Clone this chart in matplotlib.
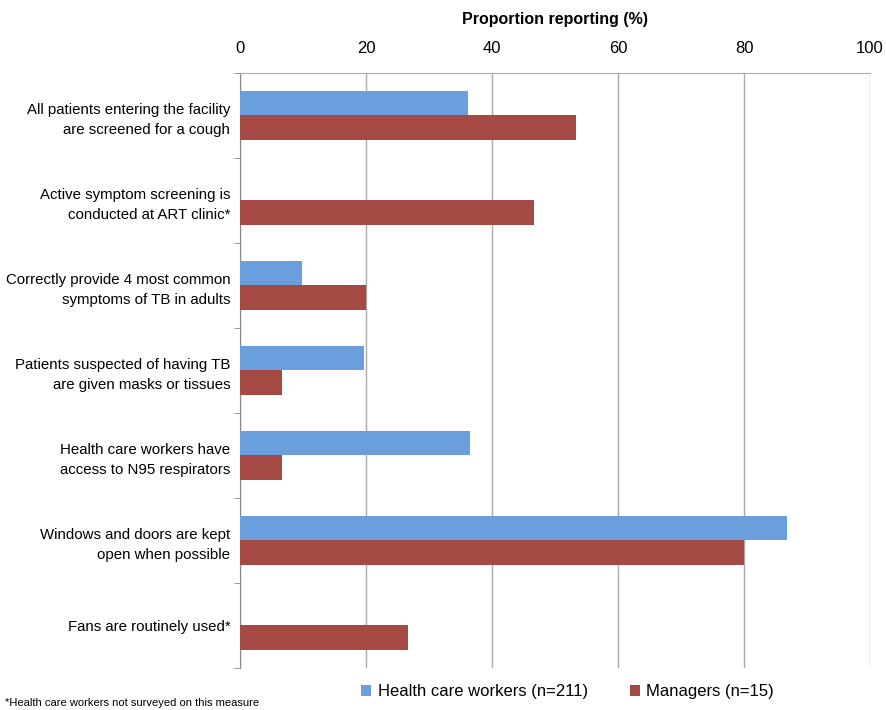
import matplotlib
matplotlib.use('Agg')
import matplotlib.pyplot as plt
import numpy as np

# Data
categories = [
    'All patients entering the facility\nare screened for a cough',
    'Active symptom screening is\nconducted at ART clinic*',
    'Correctly provide 4 most common\nsymptoms of TB in adults',
    'Patients suspected of having TB\nare given masks or tissues',
    'Health care workers have\naccess to N95 respirators',
    'Windows and doors are kept\nopen when possible',
    'Fans are routinely used*',
]
hcw = [36.2, np.nan, 9.8, 19.7, 36.5, 86.8, np.nan]
managers = [53.3, 46.7, 20.0, 6.7, 6.7, 80.0, 26.7]
series_labels = ['Health care workers (n=211)', 'Managers (n=15)']
xticks = [0, 20, 40, 60, 80, 100]

plt.rcParams['font.family'] = ['Liberation Sans', 'DejaVu Sans']

blue = '#6a9edc'
red = '#a54944'

fig = plt.figure(figsize=(8.87, 7.10), dpi=100)
ax = fig.add_axes([0.2706, 0.0592, 0.7103, 0.8384])

y = np.arange(len(categories))
h = 0.29
ax.barh(y - h / 2, hcw, height=h, color=blue, label=series_labels[0], zorder=3)
ax.barh(y + h / 2, managers, height=h, color=red, label=series_labels[1], zorder=3)

ax.set_xlim(0, 100)
ax.set_ylim(len(categories) - 0.5, -0.5)
ax.xaxis.tick_top()
ax.xaxis.set_label_position('top')
ax.set_xticks(xticks)
ax.tick_params(axis='x', length=0, labelsize=12, pad=12)
ax.set_xlabel('Proportion reporting (%)', fontsize=11.5, fontweight='bold', labelpad=12)

ax.set_yticks(y)
ax.set_yticklabels(categories, fontsize=10.8, linespacing=1.55)
ax.tick_params(axis='y', which='major', length=0, pad=7)
ax.set_yticks(np.arange(len(categories) + 1) - 0.5, minor=True)
ax.tick_params(axis='y', which='minor', length=4, color='#888888', direction='out')

ax.grid(axis='x', color='#aaaaaa', linewidth=1, zorder=0)
for s in ['right', 'bottom']:
    ax.spines[s].set_visible(False)
ax.spines['top'].set_color('#aaaaaa')
ax.spines['left'].set_color('#888888')

ax.legend(loc='lower center', bbox_to_anchor=(0.52, -0.078), ncol=2, frameon=False,
          fontsize=12, handlelength=0.6, handleheight=0.6, columnspacing=2.5, handletextpad=0.4)

fig.text(0.006, 0.003, '*Health care workers not surveyed on this measure', fontsize=8, va='bottom')

fig.savefig('out.png', dpi=100, facecolor='white')
